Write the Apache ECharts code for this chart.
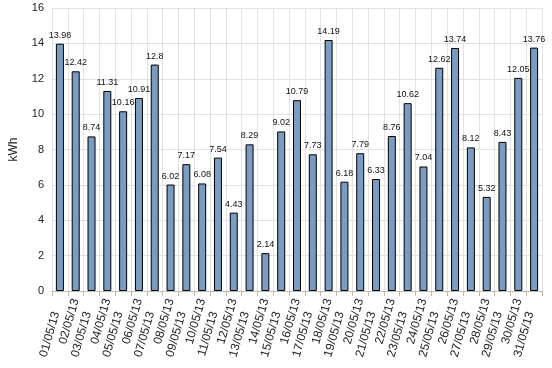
<!DOCTYPE html>
<html><head><meta charset="utf-8">
<script src="https://cdn.jsdelivr.net/npm/echarts@6/dist/echarts.min.js"></script>
<style>html,body{margin:0;padding:0;background:#fff}#c{width:552px;height:368px}</style>
</head><body><div id="c"></div>
<script>
const categories = ["01/05/13","02/05/13","03/05/13","04/05/13","05/05/13","06/05/13","07/05/13","08/05/13","09/05/13","10/05/13","11/05/13","12/05/13","13/05/13","14/05/13","15/05/13","16/05/13","17/05/13","18/05/13","19/05/13","20/05/13","21/05/13","22/05/13","23/05/13","24/05/13","25/05/13","26/05/13","27/05/13","28/05/13","29/05/13","30/05/13","31/05/13"];
const values = [13.98,12.42,8.74,11.31,10.16,10.91,12.8,6.02,7.17,6.08,7.54,4.43,8.29,2.14,9.02,10.79,7.73,14.19,6.18,7.79,6.33,8.76,10.62,7.04,12.62,13.74,8.12,5.32,8.43,12.05,13.76];
const yTicks = [0,2,4,6,8,10,12,14,16];

const chart = echarts.init(document.getElementById('c'), null, {renderer:'canvas'});
chart.setOption({
  animation:false,
  textStyle:{fontFamily:'Liberation Sans, Arial, sans-serif'},
  grid:{left:50,right:10,top:8,bottom:77,containLabel:false},
  xAxis:{
    type:'category', data:categories,
    boundaryGap:true,
    axisLine:{show:true,lineStyle:{color:'#bbbbbb'}},
    axisTick:{show:true,length:5,lineStyle:{color:'#bbbbbb'}},
    splitLine:{show:true,lineStyle:{color:'#e2e2e2',width:1}},
    axisLabel:{interval:0,rotate:74,color:'#222',fontSize:12,margin:8,
      formatter:function(v,i){return i%2===0 ? v+'\u00a0\u00a0\u00a0\u00a0' : v;}}
  },
  yAxis:{
    type:'value', min:yTicks[0], max:yTicks[yTicks.length-1], interval:2,
    name:'kWh', nameLocation:'middle', nameGap:32, nameRotate:90,
    nameTextStyle:{fontSize:12,color:'#222'},
    axisLine:{show:false}, axisTick:{show:false},
    axisLabel:{color:'#222',fontSize:11,margin:8},
    splitLine:{show:true,lineStyle:{color:'#e2e2e2',width:1}}
  },
  series:[{
    type:'bar', data:values, barWidth:8,
    itemStyle:{color:'#7a9cc0',borderColor:'#000',borderWidth:1},
    label:{show:true,position:'top',distance:4,fontSize:9,color:'#111'}
  }]
});
</script></body></html>
